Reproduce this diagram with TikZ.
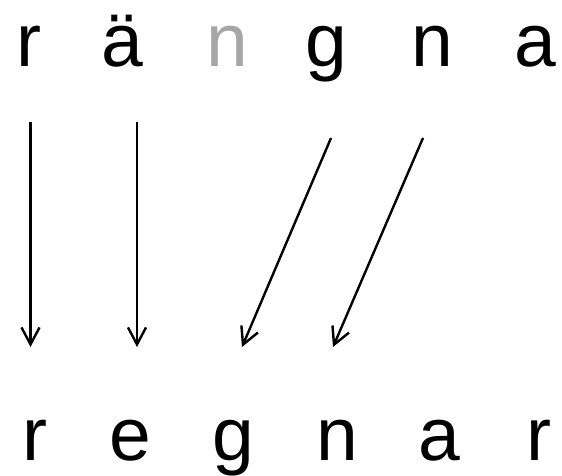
\documentclass[tikz,border=0pt]{standalone}
\usepackage{fontspec}
\setmainfont{Liberation Sans}
\usetikzlibrary{arrows.meta}
\definecolor{lightgrey}{HTML}{A6A6A6}
\begin{document}
\begin{tikzpicture}[x=1pt,y=-1pt,
  letter/.style={anchor=base,inner sep=0pt,font=\fontsize{75}{80}\selectfont},
  link/.style={line width=2.4pt,-{Straight Barb[length=17pt,width=18pt]}}]
\useasboundingbox (0,0) rectangle (562,475);
% top row
\node[letter] (t1) at (29,66) {r};
\node[letter] (t2) at (122,66) {ä};
\node[letter,text=lightgrey] (t3) at (227,66) {n};
\node[letter] (t4) at (326,66) {g};
\node[letter] (t5) at (432,66) {n};
\node[letter] (t6) at (535,66) {a};
% bottom row
\node[letter] (b1) at (35,460) {r};
\node[letter] (b2) at (130,460) {e};
\node[letter] (b3) at (233,460) {g};
\node[letter] (b4) at (337,460) {n};
\node[letter] (b5) at (439,460) {a};
\node[letter] (b6) at (539,460) {r};
% arrow ends
\coordinate (s1) at (30.5,122);
\coordinate (e1) at (30.5,347);
\coordinate (s2) at (137,122);
\coordinate (e2) at (137,347);
\coordinate (s3) at (331,138);
\coordinate (e3) at (242,347);
\coordinate (s4) at (423,138);
\coordinate (e4) at (333,347);
\draw[link] (s1) -- (e1);
\draw[link] (s2) -- (e2);
\draw[link] (s3) -- (e3);
\draw[link] (s4) -- (e4);
\end{tikzpicture}
\end{document}
